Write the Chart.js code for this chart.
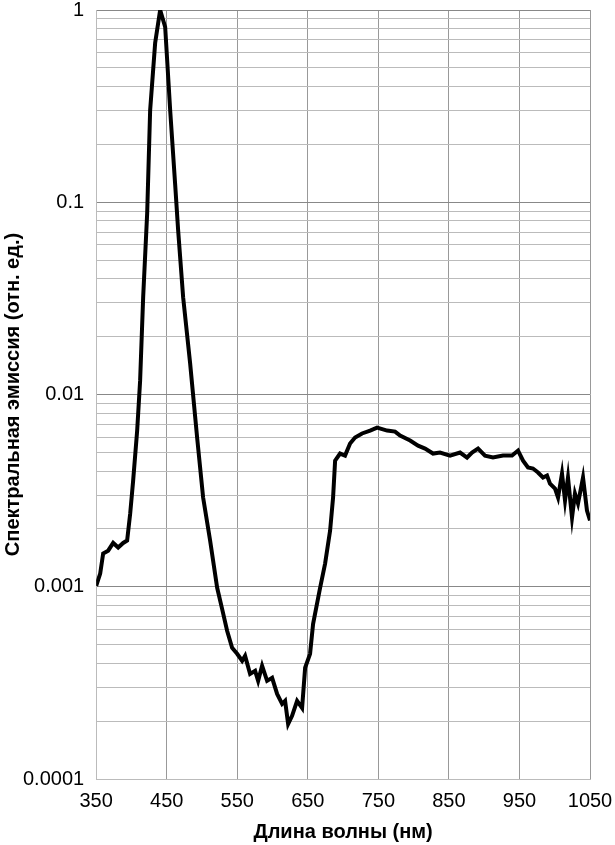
<!DOCTYPE html>
<html>
<head>
<meta charset="utf-8">
<script src="https://cdn.jsdelivr.net/npm/chart.js@4.4.0/dist/chart.umd.min.js"></script>
<style>
  body { margin: 0; background: #fff; }
</style>
</head>
<body>
<canvas id="spectrum-chart" width="615" height="845"></canvas>
<script>
const wavelength = [
    350, 355.7, 359.9, 367, 374.1, 381.2, 388.3, 393.9, 398.2, 402.4,
    408.1, 412.3, 416.6, 422.3, 426.5, 433.6, 440.7, 447.8, 454.9, 462,
    466.2, 473.3, 483.2, 493.1, 501.6, 511.5, 521.5, 528.5, 535.6, 542.7,
    549.8, 556.9, 561.1, 568.2, 575.3, 579.6, 585.2, 592.3, 599.4, 606.5,
    613.6, 617.8, 622.1, 627.7, 634.8, 641.9, 646.2, 653.2, 657.5, 667.4,
    674.5, 681.6, 685.8, 688.7, 695.7, 702.8, 709.9, 717, 726.9, 738.3,
    748.2, 762.4, 773.7, 780.8, 795, 806.3, 816.2, 827.5, 837.4, 851.6,
    865.8, 875.7, 882.8, 891.3, 901.2, 912.5, 926.7, 939.5, 948, 955.1,
    962.1, 969.2, 976.3, 983.4, 989.1, 993.3, 1000.4, 1004.7, 1010.3, 1014.6,
    1018.8, 1024.5, 1028.7, 1033, 1040.1, 1045.7, 1050
];

const emission = [
    0.00101, 0.00117, 0.00149, 0.00154, 0.00169, 0.00160, 0.00169, 0.00174, 0.00240, 0.00356,
    0.00649, 0.0118, 0.0320, 0.0877, 0.301, 0.673, 1.0, 0.816, 0.301, 0.123,
    0.0715, 0.0320, 0.0145, 0.00597, 0.00291, 0.00174, 0.000988, 0.000767, 0.000590, 0.000481,
    0.000448, 0.000412, 0.000437, 0.000352, 0.000365, 0.000324, 0.000388, 0.000324, 0.000336, 0.000277,
    0.000246, 0.000255, 0.000193, 0.000213, 0.000255, 0.000234, 0.000379, 0.000448, 0.000641, 0.000988,
    0.00132, 0.00196, 0.00291, 0.00453, 0.00493, 0.00481, 0.00556, 0.00597, 0.00627, 0.00649,
    0.00673, 0.00649, 0.00641, 0.00611, 0.00576, 0.00542, 0.00523, 0.00493, 0.00499, 0.00481,
    0.00499, 0.00470, 0.00499, 0.00523, 0.00481, 0.00470, 0.00481, 0.00481, 0.00511, 0.00453,
    0.00417, 0.00412, 0.00393, 0.00370, 0.00379, 0.00344, 0.00324, 0.00291, 0.00388, 0.00281,
    0.00370, 0.00229, 0.00305, 0.00271, 0.00370, 0.00249, 0.00221
];

const xTicks = [350, 450, 550, 650, 750, 850, 950, 1050];
const yDecades = [0.0001, 0.001, 0.01, 0.1, 1];
const yLabels = ['0.0001', '0.001', '0.01', '0.1', '1'];

function decadeIndex(value) {
    for (let i = 0; i < yDecades.length; i++) {
        if (Math.abs(Math.log10(value) - Math.log10(yDecades[i])) < 1e-6) return i;
    }
    return -1;
}

const points = wavelength.map(function(w, i) {
    return { x: w, y: emission[i] };
});

Chart.defaults.font.family = '"Liberation Sans", Arial, sans-serif';
Chart.defaults.color = '#000';

const spectrumChart = new Chart(document.getElementById('spectrum-chart'), {
    type: 'line',
    data: {
        datasets: [{
            data: points,
            borderColor: '#000',
            borderWidth: 4,
            pointRadius: 0,
            tension: 0,
            fill: false
        }]
    },
    options: {
        responsive: false,
        animation: false,
        layout: { autoPadding: false, padding: { top: 0, right: 25, left: 3, bottom: 3 } },
        plugins: {
            legend: { display: false },
            tooltip: { enabled: false }
        },
        scales: {
            x: {
                type: 'linear',
                min: 350,
                max: 1050,
                afterBuildTicks: function(scale) {
                    scale.ticks = xTicks.map(function(v) { return { value: v }; });
                },
                grid: { color: '#999', lineWidth: 1, drawTicks: true, tickLength: 10, tickColor: 'rgba(0,0,0,0)' },
                border: { color: '#bbb' },
                ticks: {
                    autoSkip: false,
                    maxRotation: 0,
                    padding: 0,
                    font: { size: 20 },
                    callback: function(value) { return String(value); }
                },
                title: {
                    display: true,
                    text: 'Длина волны (нм)',
                    font: { size: 20, weight: 'bold', lineHeight: 1 },
                    padding: { top: 9, bottom: 0 }
                }
            },
            y: {
                type: 'logarithmic',
                min: 0.0001,
                max: 1,
                afterBuildTicks: function(scale) {
                    const ticks = [];
                    yDecades.forEach(function(d, i) {
                        ticks.push({ value: d });
                        if (i < yDecades.length - 1) {
                            for (let k = 2; k <= 9; k++) ticks.push({ value: d * k });
                        }
                    });
                    scale.ticks = ticks;
                },
                grid: {
                    drawTicks: true,
                    tickLength: 12,
                    tickColor: 'rgba(0,0,0,0)',
                    lineWidth: 1,
                    color: function(ctx) {
                        return ctx.tick && decadeIndex(ctx.tick.value) >= 0 ? '#888' : '#bbb';
                    }
                },
                border: { color: '#bbb' },
                ticks: {
                    autoSkip: false,
                    padding: 0,
                    font: { size: 20, lineHeight: 1 },
                    callback: function(value) {
                        const i = decadeIndex(value);
                        return i >= 0 ? yLabels[i] : '';
                    }
                },
                title: {
                    display: true,
                    text: 'Спектральная эмиссия (отн. ед.)',
                    font: { size: 20, weight: 'bold', lineHeight: 1 },
                    padding: { top: 0, bottom: 0 }
                }
            }
        }
    }
});
</script>
</body>
</html>
